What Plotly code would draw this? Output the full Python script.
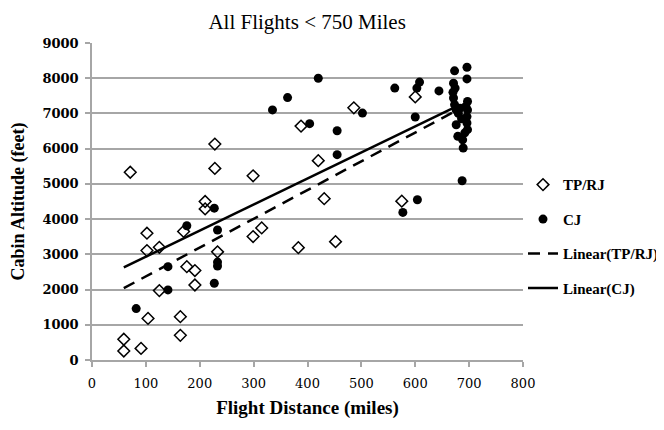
import plotly.graph_objects as go

# ---- data ----
tp_dist = [71, 59, 59, 91, 102, 102, 125, 104, 125, 164, 164, 170, 176, 191, 191,
           210, 210, 228, 228, 233, 299, 299, 315, 383, 388, 420, 431, 452, 486,
           600, 575]
tp_alt = [5330, 590, 256, 330, 3600, 3107, 3200, 1180, 1970, 1230, 700, 3650, 2650,
          2540, 2130, 4500, 4290, 6130, 5440, 3070, 5230, 3505, 3750, 3190, 6640,
          5660, 4580, 3360, 7160, 7470, 4510]

cj_dist = [82, 141, 141, 176, 227, 233, 233, 233, 227, 335, 363, 420, 404, 502, 455,
           455, 562, 600, 603, 608, 644, 577, 604, 687,
           673, 696, 696, 671, 674, 671, 673, 676, 697, 697, 696, 696, 676, 697,
           679, 688, 689, 683, 670, 694, 680, 692, 686]
cj_alt = [1460, 2650, 1990, 3810, 4310, 3690, 2780, 2670, 2180, 7100, 7450, 8000,
          6710, 7010, 6510, 5830, 7720, 6900, 7720, 7890, 7640, 4190, 4550, 5090,
          8210, 8310, 7980, 7860, 7720, 7440, 7250, 7100, 7340, 7100, 6910, 6730,
          6680, 6540, 6350, 6250, 6020, 7150, 7600, 7200, 7000, 6450, 6850]

trend_x = [59, 670]
trend_tp = [2040, 7030]
trend_cj = [2630, 7150]

x_ticks = [0, 100, 200, 300, 400, 500, 600, 700, 800]
y_ticks = [0, 1000, 2000, 3000, 4000, 5000, 6000, 7000, 8000, 9000]

title_text = "All Flights < 750 Miles"
x_title = "Flight Distance (miles)"
y_title = "Cabin Altitude (feet)"

FONT = "Liberation Serif"
TICKFONT = "DejaVu Serif"
GRID = "#a6a6a6"

fig = go.Figure()
fig.add_trace(go.Scatter(x=tp_dist, y=tp_alt, mode="markers", name="TP/RJ", legendgroup="a",
                         marker=dict(symbol="diamond-open", size=9, color="black",
                                     line=dict(width=1.5, color="black"))))
fig.add_trace(go.Scatter(x=cj_dist, y=cj_alt, mode="markers", name="CJ", legendgroup="b",
                         marker=dict(symbol="circle", size=9, color="black")))
fig.add_trace(go.Scatter(x=trend_x, y=trend_tp, mode="lines", name="Linear(TP/RJ)",
                         legendgroup="c",
                         line=dict(color="black", width=2.5, dash="12px,8px")))
fig.add_trace(go.Scatter(x=trend_x, y=trend_cj, mode="lines", name="Linear(CJ)",
                         legendgroup="d",
                         line=dict(color="black", width=2.5)))

# page body has an 8px margin, so the figure is drawn 8px smaller and offset
fig.update_layout(
    width=656, height=422,
    margin=dict(l=84, r=141, t=35, b=70, autoexpand=False),
    paper_bgcolor="white", plot_bgcolor="white",
    font=dict(family=FONT, color="black"),
    title=dict(text=title_text, x=0.456, xanchor="center", y=0.967, yanchor="middle",
               font=dict(family=FONT, size=21, color="black")),
    showlegend=True,
    legend=dict(x=1.0, xanchor="left", y=0.39, yanchor="middle",
                font=dict(family=FONT, size=15, color="black", weight="bold"),
                tracegroupgap=12, itemwidth=30, bgcolor="rgba(0,0,0,0)"),
    xaxis=dict(range=[0, 800], tickvals=x_ticks, showgrid=False, zeroline=False,
               automargin=False,
               showline=True, linecolor=GRID, linewidth=1.5,
               ticks="outside", ticklen=5, tickcolor=GRID, tickwidth=1.5,
               ticklabelstandoff=6,
               tickfont=dict(family=TICKFONT, size=13, color="black"),
               title=dict(text=x_title, standoff=10,
                          font=dict(family=FONT, size=19, color="black", weight="bold"))),
    yaxis=dict(range=[0, 9000], tickvals=y_ticks, showgrid=True, gridcolor=GRID,
               automargin=False,
               gridwidth=1.5, zeroline=False, showline=True, linecolor=GRID,
               linewidth=1.5, ticks="outside", ticklen=5, tickcolor=GRID, tickwidth=1.5,
               ticklabelstandoff=4,
               tickfont=dict(family=TICKFONT, size=13, color="black", weight="bold"),
               title=dict(text=y_title, standoff=16,
                          font=dict(family=FONT, size=18, color="black", weight="bold"))),
)

fig.write_html("out.html")
